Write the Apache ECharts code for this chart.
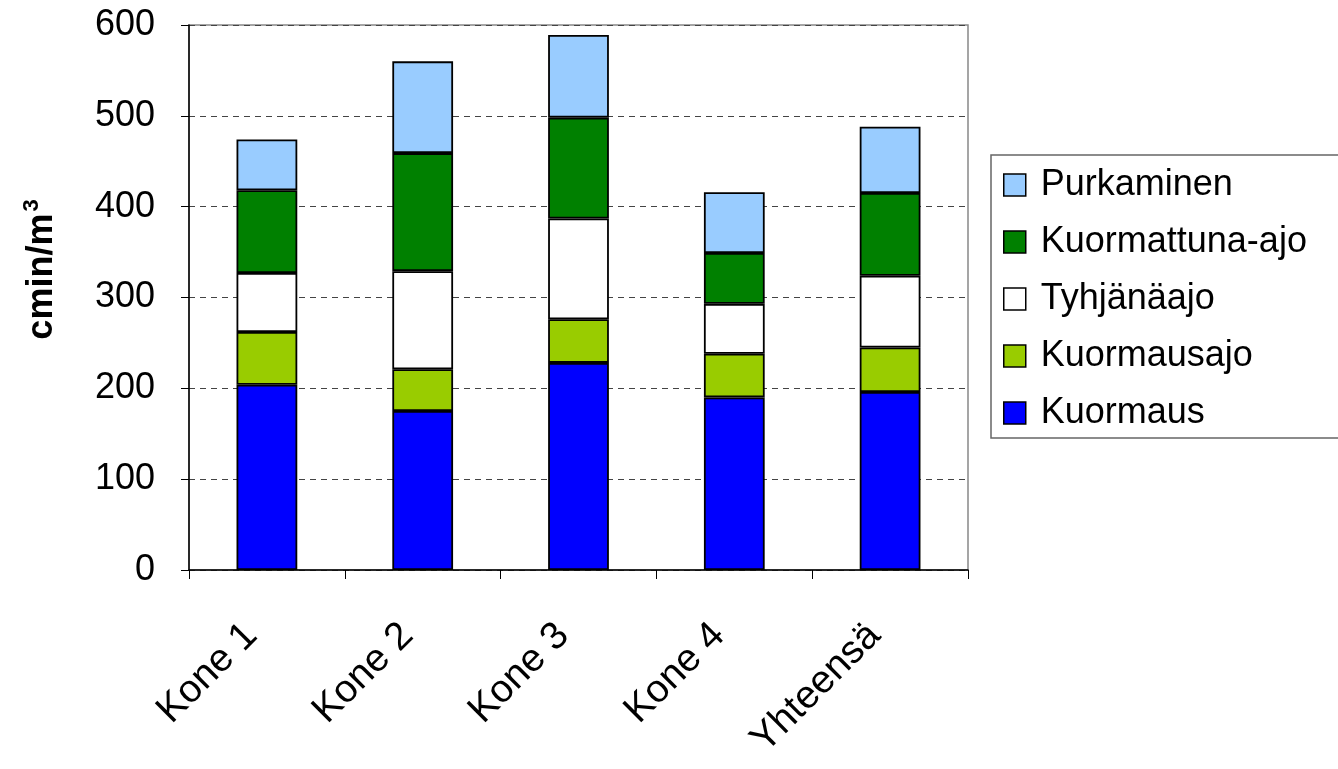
<!DOCTYPE html>
<html><head><meta charset="utf-8">
<script src="https://cdn.jsdelivr.net/npm/echarts@6/dist/echarts.min.js"></script>
<style>html,body{margin:0;padding:0;background:#fff}#c{width:1338px;height:769px}</style>
</head><body><div id="c"></div>
<script>
const categories = ['Kone 1', 'Kone 2', 'Kone 3', 'Kone 4', 'Yhteensä'];
const kuormaus = [204, 175, 228, 190, 196];
const kuormausajo = [58, 46, 48, 48, 49];
const tyhjanaajo = [65, 108, 111, 55, 79];
const kuormattunaAjo = [91, 130, 111, 56, 91];
const purkaminen = [56, 101, 91, 67, 73];
const seriesNames = ['Kuormaus', 'Kuormausajo', 'Tyhjänäajo', 'Kuormattuna-ajo', 'Purkaminen'];
const seriesColors = ['#0000FF', '#99CC00', '#FFFFFF', '#008000', '#99CCFF'];
const seriesData = [kuormaus, kuormausajo, tyhjanaajo, kuormattunaAjo, purkaminen];
const yTicks = {min: 0, max: 600, interval: 100};

const font = 'Liberation Sans, Arial, sans-serif';
const chart = echarts.init(document.getElementById('c'));
chart.setOption({
  animation: false,
  textStyle: {fontFamily: font},
  grid: {left: 189, top: 25, right: 370, bottom: 199, containLabel: false,
         show: true, borderColor: '#888', borderWidth: 1.5, backgroundColor: '#fff'},
  legend: {
    orient: 'vertical', left: 991, top: 155,
    padding: [12, 120, 7, 12],
    data: seriesNames.slice().reverse(),
    icon: 'rect',
    itemWidth: 22, itemHeight: 22, itemGap: 21,
    borderColor: '#666', borderWidth: 1.5,
    textStyle: {fontSize: 36, lineHeight: 36, color: '#000', fontFamily: font, padding: [0, 0, 0, 10]},
    itemStyle: {borderColor: '#000', borderWidth: 1.5}
  },
  xAxis: {
    type: 'category', data: categories,
    axisLine: {lineStyle: {color: '#000', width: 1.5}},
    axisTick: {show: true, length: 9, lineStyle: {color: '#000', width: 1}},
    axisLabel: {rotate: 45, fontSize: 39, color: '#000', margin: 44, padding: [0, 22, 0, 0], fontFamily: font}
  },
  yAxis: {
    type: 'value', min: yTicks.min, max: yTicks.max, interval: yTicks.interval,
    name: '{b|cmin/m}{s|3}', nameLocation: 'middle', nameGap: 126, nameRotate: 90,
    nameTextStyle: {
      padding: [0, 0, 0, 56],
      rich: {
        b: {fontSize: 36, fontWeight: 'bold', color: '#000', fontFamily: font},
        s: {fontSize: 22, fontWeight: 'bold', color: '#000', fontFamily: font, verticalAlign: 'top', padding: [0, 0, 20, 2]}
      }
    },
    axisLine: {show: true, lineStyle: {color: '#000', width: 1.5}},
    axisTick: {show: true, length: 8, lineStyle: {color: '#000', width: 1}},
    axisLabel: {fontSize: 36, color: '#000', margin: 34, fontFamily: font},
    splitLine: {show: true, lineStyle: {color: '#444', type: [6, 5], width: 1}}
  },
  series: seriesNames.map((n, i) => ({
    name: n, type: 'bar', stack: 'total', data: seriesData[i],
    barWidth: '39%',
    itemStyle: {color: seriesColors[i], borderColor: '#000', borderWidth: 1.8}
  }))
});
</script></body></html>
